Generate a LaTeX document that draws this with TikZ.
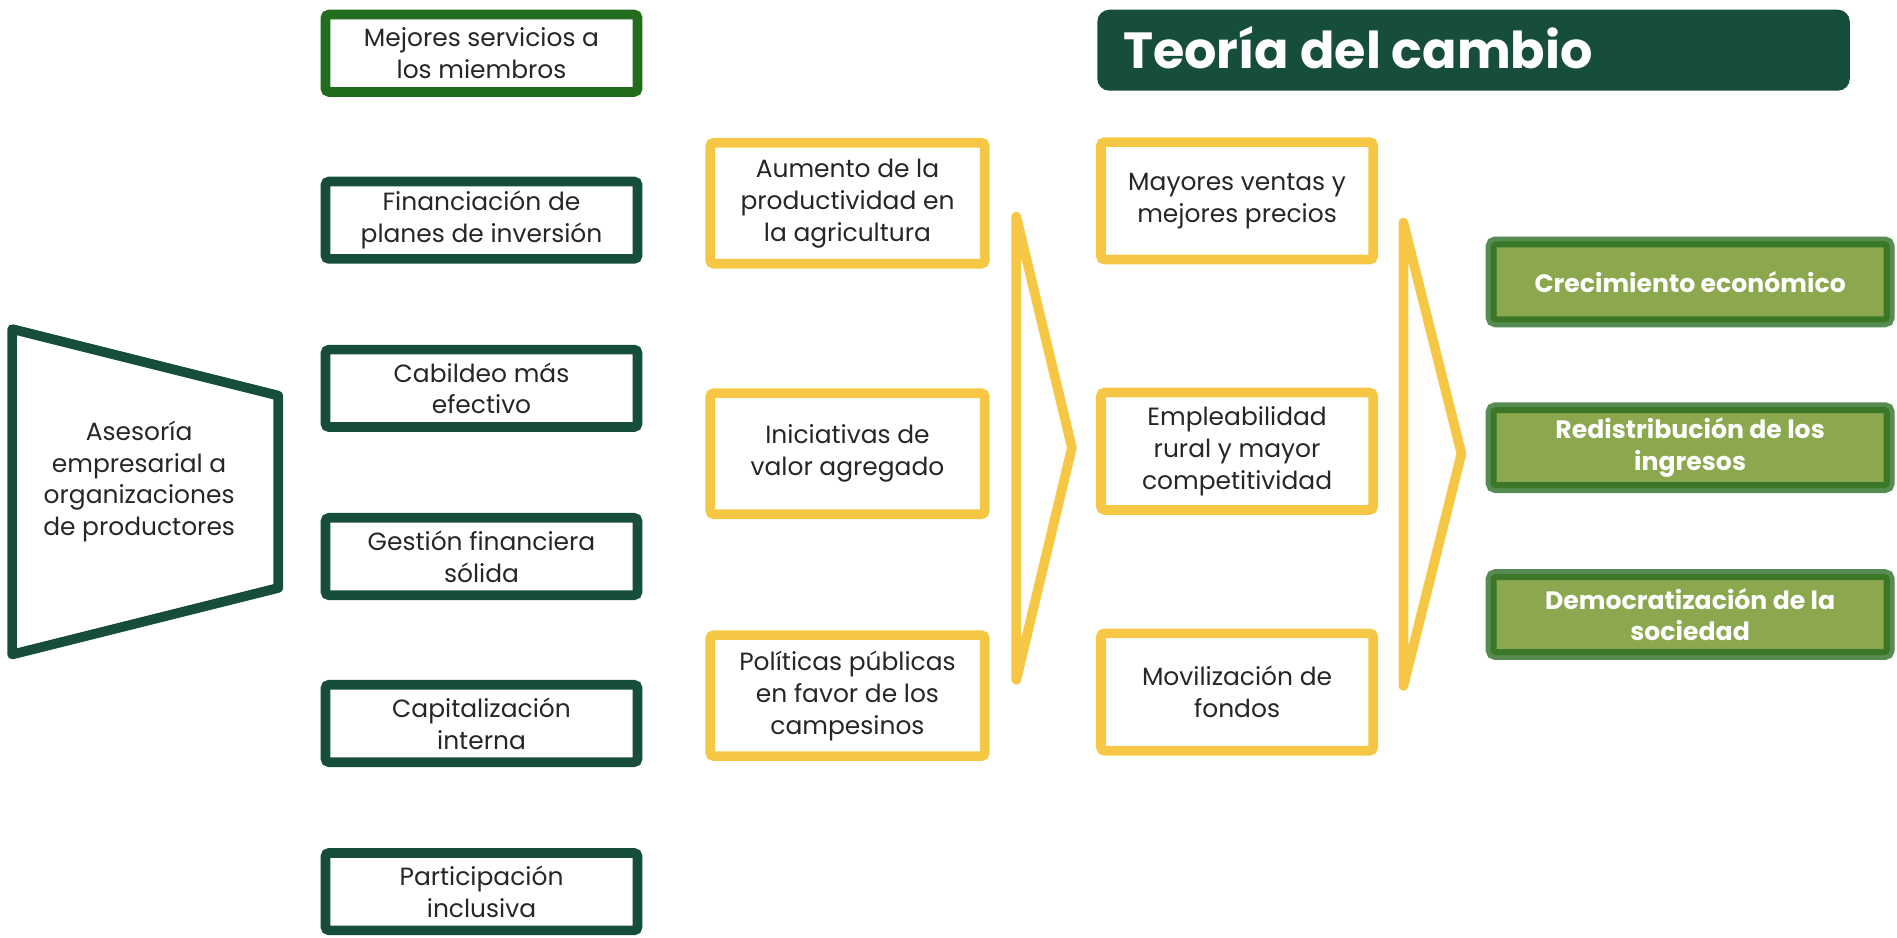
\documentclass[tikz,border=0pt]{standalone}
\usepackage{fontspec}
\setmainfont{Poppins}
\definecolor{dkgreen}{RGB}{22,78,58}
\definecolor{frgreen}{RGB}{34,108,30}
\definecolor{ylw}{RGB}{246,199,68}
\definecolor{txt}{RGB}{38,38,38}
\definecolor{ringlt}{RGB}{86,140,82}
\definecolor{ringdk}{RGB}{58,120,40}
\definecolor{olive}{RGB}{139,168,79}
\tikzset{
  lbl/.style={align=center, text=txt, font=\fontsize{10.3}{13.2}\selectfont, inner sep=0pt},
  gbox/.style={lbl, draw=dkgreen, line width=4pt, fill=white, rounded corners=1.5pt,
               minimum width=129pt, minimum height=32pt},
  ybox/.style={lbl, draw=ylw, line width=4pt, fill=white, rounded corners=1.5pt,
               minimum width=113.5pt, minimum height=50pt},
  ybox2/.style={ybox, minimum width=112.5pt, minimum height=48.5pt},
  obox/.style={align=center, text=white, font=\bfseries\fontsize{10.4}{13.2}\selectfont, inner sep=0pt,
               fill=olive, draw=ringdk, line width=2.5pt, rounded corners=1pt,
               preaction={draw=ringlt, line width=6.5pt},
               minimum width=162.5pt, minimum height=31pt},
  chev/.style={draw=ylw, line width=4pt, line join=round, line cap=round}
}
\begin{document}
\begin{tikzpicture}[x={(0.5pt,0)}, y={(0,-0.5pt)}]
\useasboundingbox (0,0) rectangle (1568,775);

% title
\node[fill=dkgreen, rounded corners=5pt, minimum width=311pt, minimum height=33.5pt, inner sep=0pt]
  (titlebox) at (1218,41.5) {};
\node[anchor=base west, text=white, font=\bfseries\fontsize{21}{26}\selectfont, inner sep=0pt]
  (titletext) at (928,57) {Teoría del cambio};

% trapezoid
\draw[draw=dkgreen, line width=4pt, line join=round] (10,272) -- (230,327) -- (230,486) -- (10,541) -- cycle;
\node[lbl] (asesoria) at (115,398) {Asesoría\\empresarial a\\organizaciones\\de productores};

% left column
\node[gbox, draw=frgreen] (b1) at (398,44) {Mejores servicios a\\los miembros};
\node[gbox] (b2) at (398,182) {Financiación de\\planes de inversión};
\node[gbox] (b3) at (398,321) {Cabildeo más\\efectivo};
\node[gbox] (b4) at (398,460) {Gestión financiera\\sólida};
\node[gbox] (b5) at (398,598) {Capitalización\\interna};
\node[gbox] (b6) at (398,737) {Participación\\inclusiva};

% yellow column 1
\node[ybox] (y1) at (700.5,168) {Aumento de la\\productividad en\\la agricultura};
\node[ybox] (y2) at (700.5,375) {Iniciativas de\\valor agregado};
\node[ybox] (y3) at (700.5,575) {Políticas públicas\\en favor de los\\campesinos};

% chevron 1
\draw[chev] (840,179) -- (886,370) -- (840,562) -- cycle;

% yellow column 2
\node[ybox2] (z1) at (1022.5,166) {Mayores ventas y\\mejores precios};
\node[ybox2] (z2) at (1022.5,373) {Empleabilidad\\rural y mayor\\competitividad};
\node[ybox2] (z3) at (1022.5,572) {Movilización de\\fondos};

% chevron 2
\draw[chev] (1160,184) -- (1208,375) -- (1160,567) -- cycle;

% outcomes
\node[obox] (o1) at (1397,233) {Crecimiento económico};
\node[obox] (o2) at (1397,370) {Redistribución de los\\ingresos};
\node[obox] (o3) at (1397,508) {Democratización de la\\sociedad};
\end{tikzpicture}
\end{document}
